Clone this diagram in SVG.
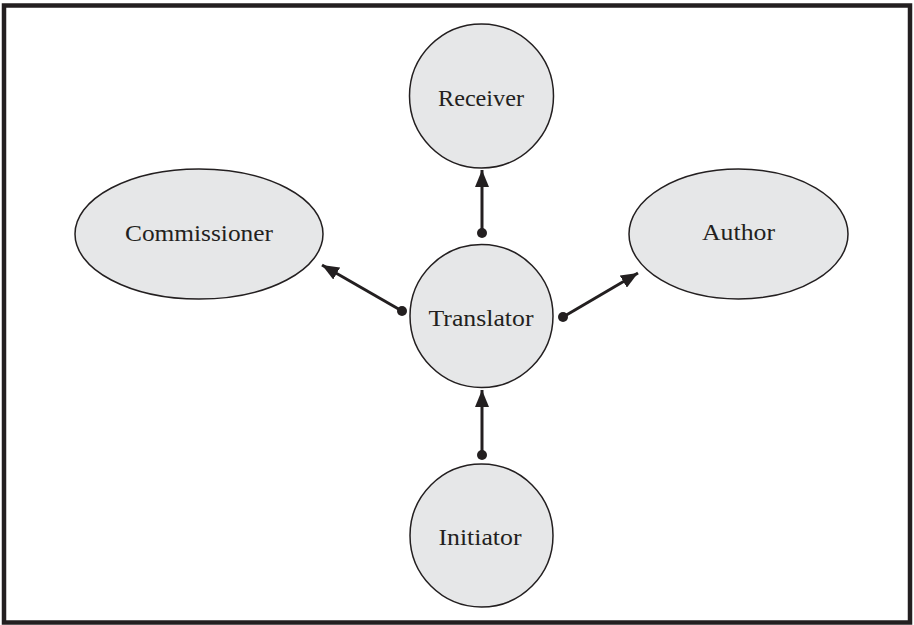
<svg xmlns="http://www.w3.org/2000/svg" width="914" height="625" viewBox="0 0 914 625">
<style>
.node{fill:#e6e7e8;stroke:#231f20;stroke-width:1.5}
.lbl{font-family:"Liberation Serif",serif;font-size:23px;fill:#231f20;text-anchor:middle}
.conn{stroke:#231f20;stroke-width:3;fill:none}
.dot{fill:#231f20}
</style>
<defs>
<marker id="ah" markerUnits="userSpaceOnUse" markerWidth="18" markerHeight="14" refX="17" refY="7" orient="auto">
<path d="M0,0 L17,7 L0,14 Z" fill="#231f20"/>
</marker>
</defs>
<rect x="4" y="5.5" width="906" height="617" fill="#fff" stroke="#231f20" stroke-width="4.5"/>
<g id="receiver"><circle class="node" cx="481.5" cy="96" r="72"/><text class="lbl" x="481" y="106" textLength="86" lengthAdjust="spacingAndGlyphs">Receiver</text></g>
<g id="commissioner"><ellipse class="node" cx="199" cy="234" rx="124" ry="65"/><text class="lbl" x="199" y="241" textLength="148" lengthAdjust="spacingAndGlyphs">Commissioner</text></g>
<g id="author"><ellipse class="node" cx="738.5" cy="234" rx="109.5" ry="65"/><text class="lbl" x="738.5" y="240" textLength="73" lengthAdjust="spacingAndGlyphs">Author</text></g>
<g id="translator"><circle class="node" cx="481.5" cy="316" r="71.5"/><text class="lbl" x="481" y="326" textLength="105" lengthAdjust="spacingAndGlyphs">Translator</text></g>
<g id="initiator"><circle class="node" cx="481.5" cy="535.5" r="71.5"/><text class="lbl" x="480" y="545" textLength="83" lengthAdjust="spacingAndGlyphs">Initiator</text></g>
<g id="connectors">
<line class="conn" x1="482" y1="233" x2="482" y2="170" marker-end="url(#ah)"/>
<circle class="dot" cx="482" cy="233" r="5"/>
<line class="conn" x1="402" y1="311" x2="322" y2="265" marker-end="url(#ah)"/>
<circle class="dot" cx="402" cy="311" r="5"/>
<line class="conn" x1="563" y1="317" x2="638" y2="273" marker-end="url(#ah)"/>
<circle class="dot" cx="563" cy="317" r="5"/>
<line class="conn" x1="482" y1="455" x2="482" y2="390" marker-end="url(#ah)"/>
<circle class="dot" cx="482" cy="455" r="5"/>
</g>
</svg>
